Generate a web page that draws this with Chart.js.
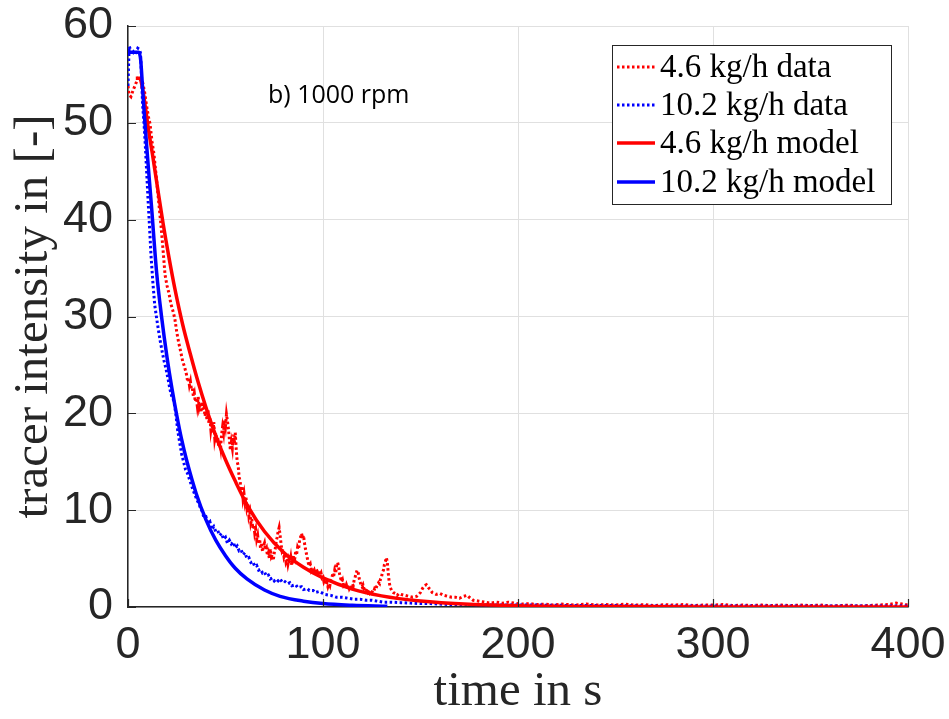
<!DOCTYPE html>
<html>
<head>
<meta charset="utf-8">
<script src="https://cdn.jsdelivr.net/npm/chart.js@4.4.0/dist/chart.umd.min.js"></script>
<style>
  html, body { margin: 0; padding: 0; background: #ffffff; }
  #wrap { width: 949px; height: 719px; }
</style>
</head>
<body>
<div id="wrap"><canvas id="c" width="949" height="719"></canvas></div>
<script>
// Tick values
const xTicks = [0, 100, 200, 300, 400];
const yTicks = [0, 10, 20, 30, 40, 50, 60];

// Series labels and colours
const seriesLabels = ['4.6 kg/h data', '10.2 kg/h data', '4.6 kg/h model', '10.2 kg/h model'];
const seriesColors = ['#ff0000', '#0000ff', '#ff0000', '#0000ff'];

// 4.6 kg/h measured tracer intensity
const redDataT = [0,0.5,1.5,2.5,3.5,4.5,5.5,6.5,7.5,8.5,9.5,10.5,11.3,12.3,13.3,14.2,15,16,17,18,19,20,21,22,23,24,25,26,27,28,29,
  30,30.5,31,31.5,32,32.5,33,33.5,34,34.5,35,35.5,36,36.5,37,37.5,38,38.5,39,39.5,40,40.5,41,41.5,42,42.5,43,43.5,44,44.5,45,45.5,46,46.5,47,47.5,48,48.5,49,49.5,
  50,50.5,51,51.5,52,52.5,53,53.5,54,54.5,55,55.5,56,56.5,57,57.5,58,58.5,59,59.5,60,60.5,61,61.5,62,62.5,63,63.5,64,64.5,65,65.5,66,66.5,67,67.5,68,68.5,69,69.5,
  70,70.5,71,71.5,72,72.5,73,73.5,74,74.5,75,75.5,76,76.5,77,77.5,78,78.5,79,79.5,80,80.5,81,81.5,82,82.5,83,83.5,84,84.5,85,85.5,86,86.5,87,87.5,88,88.5,89,89.5,
  90,90.5,91,91.5,92,92.5,93,93.5,94,94.5,95,95.5,96,96.5,97,97.5,98,98.5,99,99.5,100,100.5,101,101.5,102,102.5,103,103.5,104,104.5,105,105.5,106,106.5,107,107.5,108,108.5,109,109.5,
  110,110.5,111,111.5,112,112.5,113,113.5,114,114.5,115,115.5,116,116.5,117,117.5,118,118.5,119,119.5,120,120.5,121,121.5,122,122.5,123,123.5,124,124.5,125,125.5,126,126.5,127,127.5,128,128.5,129,129.5,
  130,130.5,131,131.5,132,132.5,133,133.5,134,134.5,135,135.5,136,137,138,139,140,142,144,146,148,150,151,152,153,154,155,156,158,160,162,164,166,168,170,172,174,175,177,180,183,186,189,192,195,198,
  202,206,210,214,218,222,226,230,235,240,245,250,255,260,265,270,275,280,285,290,295,300,305,310,315,320,325,330,335,340,345,350,355,360,365,370,375,380,385,390,394,397,400];
const redDataI = [53.8,52.9,52.7,53.3,53.8,54.3,54.8,54.4,54.2,53.2,51.8,50.6,49.9,48.1,46.8,45.0,43.4,41.3,39.2,36.8,34.3,33.2,32.4,31.3,30.6,29.8,28.4,27.3,26.4,25.4,24.8,
  24.0,23.4,23.6,22.9,23.3,22.5,22.6,21.8,22.1,21.2,21.6,20.8,21.7,20.6,21.0,20.1,21.2,20.3,20.6,19.7,20.2,19.3,20.4,19.0,19.6,18.3,19.0,17.9,19.1,17.4,18.0,16.9,17.5,16.6,17.2,16.5,17.8,18.6,18.0,19.3,
  18.7,19.9,19.2,18.4,17.3,16.2,17.0,16.4,17.8,16.9,18.0,16.3,15.0,14.6,13.4,13.0,12.0,12.5,11.2,11.7,10.8,11.3,10.2,10.6,9.4,9.8,8.7,9.1,8.1,8.5,7.6,8.0,7.0,7.4,6.5,7.0,6.0,6.6,5.7,6.3,
  6.6,5.9,6.1,5.3,5.6,5.0,6.0,5.2,5.4,4.8,5.6,6.0,6.8,7.2,7.8,8.2,7.4,6.5,5.8,6.0,5.2,5.5,4.7,5.0,4.4,4.9,4.5,5.1,4.3,4.8,5.3,5.0,5.7,5.5,6.2,6.0,6.9,7.2,7.6,7.1,
  7.4,6.6,6.0,5.5,5.0,4.5,4.2,4.4,3.8,4.0,3.6,3.8,3.4,3.9,3.7,3.4,3.8,3.3,3.5,3.0,3.1,2.6,2.8,2.3,2.5,2.1,2.4,2.2,2.8,3.0,3.4,3.2,3.8,3.5,4.3,4.6,4.2,3.4,3.0,2.6,
  2.8,2.3,2.5,2.0,2.3,2.0,2.3,1.9,2.1,2.0,2.4,2.2,2.8,3.1,3.5,3.8,3.6,3.0,2.6,2.3,2.1,2.3,1.9,2.0,1.7,1.9,1.6,1.8,1.5,1.7,1.5,1.7,1.6,1.9,1.8,2.1,2.3,2.5,2.4,2.9,
  3.1,3.6,3.8,4.4,4.7,5.1,4.6,3.4,2.5,2.0,1.8,1.6,1.5,1.4,1.2,1.4,1.3,1.2,1.1,1.0,1.1,1.5,1.9,2.2,2.3,2.0,1.8,1.5,1.3,1.4,1.2,1.1,1.0,1.0,0.9,1.1,1.2,1.0,0.7,0.6,0.5,0.4,0.5,0.4,0.5,0.4,
  0.3,0.35,0.25,0.3,0.2,0.3,0.25,0.2,0.3,0.2,0.25,0.2,0.3,0.2,0.25,0.15,0.25,0.2,0.25,0.15,0.2,0.2,0.25,0.15,0.2,0.15,0.2,0.15,0.2,0.15,0.2,0.15,0.2,0.1,0.15,0.2,0.1,0.15,0.2,0.25,0.4,0.3,0.2];

// 10.2 kg/h measured tracer intensity
const blueDataT = [0,0.3,0.6,1.2,2,2.8,3.5,4.3,5,5.8,6.4,7,7.5,8.2,8.9,9.6,10.3,11,11.8,12.8,13.7,14.7,15.6,16.5,17.5,18.5,19.5,20.5,21.5,22.5,23.5,24.5,25.5,26.5,27.5,28.5,29.5,30.5,31.5,32.5,33.5,34.5,35.5,36.5,37,
  38,39,40,41,42,43,44,45,46,47,48,49,50,51,52,53,54,55,56,57,58,59,60,61,62,63,64,65,66,67,68,69,70,71,72,73,74,75,76,77,78,79,80,82,83,84,86,87,89,90,92,93,95,96,98,100,
  101,104,107,110,113,116,119,122,125,128,131,135,140,145,150,155,160,166,175,185,195,210,230,250,270,300,330,360,400];
const blueDataI = [53.8,56.0,57.9,57.6,57.0,57.3,57.1,57.4,57.7,57.6,57.2,54.5,51.8,50.0,47.6,44.8,42.0,39.4,36.3,33.4,31.2,29.8,28.6,27.5,26.4,25.4,24.6,23.6,22.5,21.7,21.3,20.0,18.2,17.0,15.8,15.0,14.2,13.8,13.2,12.6,12.0,11.5,11.0,10.6,10.3,
  9.9,9.2,9.3,8.6,8.8,8.0,8.3,7.8,7.9,7.4,7.6,7.0,7.2,6.6,6.9,6.5,6.7,6.1,6.3,5.8,5.9,5.4,5.6,5.0,5.1,4.6,4.7,4.2,4.3,3.8,3.9,3.5,3.6,3.2,3.3,2.9,3.0,2.7,2.9,2.7,2.9,2.6,2.7,2.4,2.5,2.2,2.3,2.0,2.1,1.8,1.9,1.7,1.7,1.5,1.6,1.4,
  1.3,1.2,1.0,1.0,0.9,0.8,0.8,0.7,0.7,0.6,0.5,0.5,0.45,0.4,0.35,0.35,0.3,0.25,0.25,0.2,0.2,0.2,0.15,0.15,0.1,0.1,0.1,0.1,0.1];

// 4.6 kg/h model curve
const redModelT = [4,6,7.5,9,10.5,12.5,15,18,21,24,28,32,36,40,45,50,55,61.5,70,80,90,100,115,130,150,175,200,250,300,400];
const redModelI = [54.6,54.6,53.5,51.5,49.3,46.8,43.5,39.6,36.1,32.9,29.2,26.1,23.2,20.6,17.7,15.2,13.0,10.4,7.8,5.6,4.1,3.0,1.85,1.15,0.62,0.29,0.14,0.04,0.01,0];

// 10.2 kg/h model curve
const blueModelT = [0,5.5,6.5,7.5,8.5,10,12,14.7,17.2,20,22.5,25,27.5,30,35,40,45,50,55,61,70,78,90,100,115,133];
const blueModelI = [57.3,57.3,56.5,53.5,50.5,46.5,41.5,34.5,30,25.8,22.6,19.8,17.3,15.2,11.7,9.0,6.9,5.3,4.0,2.9,1.75,1.1,0.6,0.35,0.18,0.08];

const pts = (t, v) => t.map((x, i) => ({ x: x, y: v[i] }));

const AXIS_COLOR = '#262626';
const GRID_COLOR = '#e0e0e0';
const SERIF = '"Liberation Serif", "Times New Roman", serif';
const SANS = '"Liberation Sans", Arial, sans-serif';

// Inward tick marks, axis titles, annotation and boxed legend
const decorations = {
  id: 'decorations',
  afterDraw(chart) {
    const ctx = chart.ctx;
    const area = chart.chartArea;
    const xs = chart.scales.x, ys = chart.scales.y;
    ctx.save();

    // tick marks pointing into the plot
    ctx.strokeStyle = AXIS_COLOR;
    ctx.lineWidth = 1.2;
    ctx.beginPath();
    yTicks.forEach(v => {
      const py = Math.round(ys.getPixelForValue(v)) + 0.5;
      ctx.moveTo(area.left, py);
      ctx.lineTo(area.left + 8, py);
    });
    xTicks.forEach(v => {
      const px = Math.round(xs.getPixelForValue(v)) + 0.5;
      ctx.moveTo(px, area.bottom);
      ctx.lineTo(px, area.bottom - 8);
    });
    ctx.stroke();

    // axis titles
    ctx.fillStyle = AXIS_COLOR;
    ctx.font = '49px ' + SERIF;
    ctx.textAlign = 'center';
    ctx.textBaseline = 'alphabetic';
    ctx.fillText('time in s', (area.left + area.right) / 2, 705);
    ctx.save();
    ctx.translate(47, (area.top + area.bottom) / 2);
    ctx.rotate(-Math.PI / 2);
    ctx.fillText('tracer intensity in [-]', 0, 0);
    ctx.restore();

    // operating point annotation
    ctx.fillStyle = '#000000';
    ctx.font = '25px "Open Sans", sans-serif';
    ctx.textAlign = 'left';
    ctx.textBaseline = 'middle';
    ctx.fillText('b) 1000 rpm', 268, 96);

    // legend box
    const bx = 612, by = 45, bw = 279, bh = 159;
    ctx.fillStyle = '#ffffff';
    ctx.fillRect(bx, by, bw, bh);
    ctx.strokeStyle = AXIS_COLOR;
    ctx.lineWidth = 1;
    ctx.strokeRect(bx + 0.5, by + 0.5, bw, bh);
    const rowY = [67, 105, 143, 182];
    chart.data.datasets.forEach((ds, i) => {
      const y = rowY[i];
      ctx.save();
      ctx.strokeStyle = ds.borderColor;
      ctx.lineWidth = ds.borderWidth;
      ctx.setLineDash(ds.borderDash || []);
      ctx.beginPath();
      ctx.moveTo(617, y);
      ctx.lineTo(655, y);
      ctx.stroke();
      ctx.restore();
      ctx.fillStyle = '#000000';
      ctx.font = '33px ' + SERIF;
      ctx.textAlign = 'left';
      ctx.textBaseline = 'middle';
      ctx.fillText(ds.label, 660, y + 1);
    });
    ctx.restore();
  }
};

const tickFont = { family: SANS, size: 45 };

new Chart(document.getElementById('c'), {
  type: 'line',
  data: {
    datasets: [
      { label: seriesLabels[0], data: pts(redDataT, redDataI), borderColor: seriesColors[0], borderWidth: 3, borderDash: [2.5, 2.5], pointRadius: 0, tension: 0, order: 4 },
      { label: seriesLabels[1], data: pts(blueDataT, blueDataI), borderColor: seriesColors[1], borderWidth: 3, borderDash: [2.5, 2.5], pointRadius: 0, tension: 0, order: 3 },
      { label: seriesLabels[2], data: pts(redModelT, redModelI), borderColor: seriesColors[2], borderWidth: 3.5, pointRadius: 0, cubicInterpolationMode: 'monotone', order: 2 },
      { label: seriesLabels[3], data: pts(blueModelT, blueModelI), borderColor: seriesColors[3], borderWidth: 3.5, pointRadius: 0, cubicInterpolationMode: 'monotone', order: 1 }
    ]
  },
  options: {
    responsive: false,
    animation: false,
    devicePixelRatio: 1,
    layout: { padding: { top: 26, right: 41, left: 0, bottom: 0 } },
    plugins: { legend: { display: false }, tooltip: { enabled: false } },
    scales: {
      x: {
        type: 'linear', min: 0, max: 400,
        ticks: { stepSize: 100, color: AXIS_COLOR, font: tickFont, padding: 12, maxRotation: 0 },
        grid: { color: GRID_COLOR, drawTicks: false, lineWidth: 1 },
        border: { display: true, color: AXIS_COLOR, width: 1.5 },
        afterFit(s) { s.height = 112; s.paddingLeft = 0; s.paddingRight = 0; }
      },
      y: {
        type: 'linear', min: 0, max: 60,
        ticks: { stepSize: 10, color: AXIS_COLOR, font: tickFont, padding: 15 },
        grid: { color: GRID_COLOR, drawTicks: false, lineWidth: 1 },
        border: { display: true, color: AXIS_COLOR, width: 1.5 },
        afterFit(s) { s.width = 128; s.paddingTop = 0; s.paddingBottom = 0; }
      }
    }
  },
  plugins: [decorations]
});
</script>
</body>
</html>
